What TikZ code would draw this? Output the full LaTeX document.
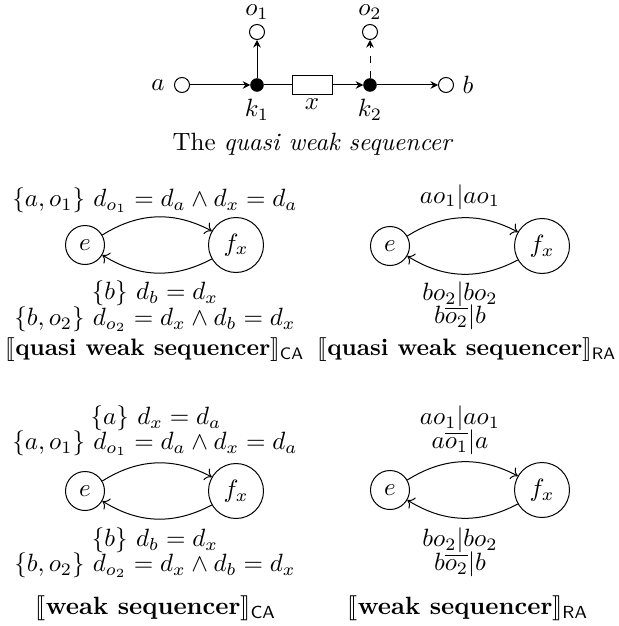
\documentclass[tikz,border=0pt]{standalone}
\usepackage{amsmath,amssymb}
\usepackage{stmaryrd}
\usetikzlibrary{arrows.meta}
\begin{document}
\begin{tikzpicture}[x=0.4pt,y=-0.4pt,
  place/.style={circle,draw,minimum size=6pt,inner sep=0pt},
  tokn/.style={circle,draw,fill=black,minimum size=5pt,inner sep=0pt},
  regbox/.style={draw,minimum width=16pt,minimum height=7.4pt,inner sep=0pt},
  flow/.style={-{Stealth[length=3pt,width=3pt]}},
  smallst/.style={circle,draw,inner sep=0pt,minimum size=15.6pt},
  bigst/.style={circle,draw,inner sep=0pt,minimum size=22pt},
  trans/.style={->,bend left=30},
  lbl/.style={inner sep=0pt}
]
\useasboundingbox (0,0) rectangle (619,626);
% ---- top net
\node[place] (a) at (182,85) {};
\node[tokn] (k1) at (257,85) {};
\node[place] (o1) at (257,32) {};
\node[regbox] (x) at (312,85) {};
\node[tokn] (k2) at (370,85) {};
\node[place] (o2) at (370,32) {};
\node[place] (b) at (446,85) {};
\node[lbl] (la) at (158,85) {$a$};
\node[lbl] (lb) at (468,85) {$b$};
\node[lbl] (lo1) at (257,12) {$o_1$};
\node[lbl] (lo2) at (370,12) {$o_2$};
\node[lbl] (lk1) at (257,110) {$k_1$};
\node[lbl] (lk2) at (370,110) {$k_2$};
\node[lbl] (lx) at (312,104) {$x$};
\draw[flow] (a) -- (k1);
\draw[flow] (k1) -- (o1);
\draw (k1) -- (x);
\draw[flow] (x) -- (k2);
\draw[flow] (k2) -- (b);
\draw[flow,dashed] (k2) -- (o2);
\node[lbl] (cap) at (313,144) {The \emph{quasi weak sequencer}};
% ---- quasi weak CA
\node[smallst] (e1) at (85,245) {$e$};
\node[bigst] (f1) at (236,245) {$f_x$};
\draw[trans] (e1) to (f1);
\draw[trans] (f1) to (e1);
\node[lbl] (t1a) at (155,200) {$\{a,o_1\}\ d_{o_1}=d_a\wedge d_x=d_a$};
\node[lbl] (t1b) at (155,293) {$\{b\}\ d_b=d_x$};
\node[lbl] (t1c) at (155,319) {$\{b,o_2\}\ d_{o_2}=d_x\wedge d_b=d_x$};
\node[lbl] (c1) at (155,350) {\scalebox{0.95}{$\llbracket\textbf{quasi weak sequencer}\rrbracket_{\mathsf{CA}}$}};
% ---- quasi weak RA
\node[smallst] (e2) at (390,246) {$e$};
\node[bigst] (f2) at (542,246) {$f_x$};
\draw[trans] (e2) to (f2);
\draw[trans] (f2) to (e2);
\node[lbl] (t2a) at (460,197) {$ao_1|ao_1$};
\node[lbl] (t2b) at (460,294) {$bo_2|bo_2$};
\node[lbl] (t2c) at (460,317) {$b\overline{o_2}|b$};
\node[lbl] (c2) at (467,350) {\scalebox{0.95}{$\llbracket\textbf{quasi weak sequencer}\rrbracket_{\mathsf{RA}}$}};
% ---- weak CA
\node[smallst] (e3) at (85,491) {$e$};
\node[bigst] (f3) at (236,491) {$f_x$};
\draw[trans] (e3) to (f3);
\draw[trans] (f3) to (e3);
\node[lbl] (t3a) at (156,418) {$\{a\}\ d_x=d_a$};
\node[lbl] (t3b) at (155,443) {$\{a,o_1\}\ d_{o_1}=d_a\wedge d_x=d_a$};
\node[lbl] (t3c) at (155,540) {$\{b\}\ d_b=d_x$};
\node[lbl] (t3d) at (155,565) {$\{b,o_2\}\ d_{o_2}=d_x\wedge d_b=d_x$};
\node[lbl] (c3) at (156,608) {$\llbracket\textbf{weak sequencer}\rrbracket_{\mathsf{CA}}$};
% ---- weak RA
\node[smallst] (e4) at (390,490) {$e$};
\node[bigst] (f4) at (542,490) {$f_x$};
\draw[trans] (e4) to (f4);
\draw[trans] (f4) to (e4);
\node[lbl] (t4a) at (460,418) {$ao_1|ao_1$};
\node[lbl] (t4b) at (460,442) {$a\overline{o_1}|a$};
\node[lbl] (t4c) at (460,540) {$bo_2|bo_2$};
\node[lbl] (t4d) at (460,564) {$b\overline{o_2}|b$};
\node[lbl] (c4) at (468,608) {$\llbracket\textbf{weak sequencer}\rrbracket_{\mathsf{RA}}$};
\end{tikzpicture}
\end{document}
